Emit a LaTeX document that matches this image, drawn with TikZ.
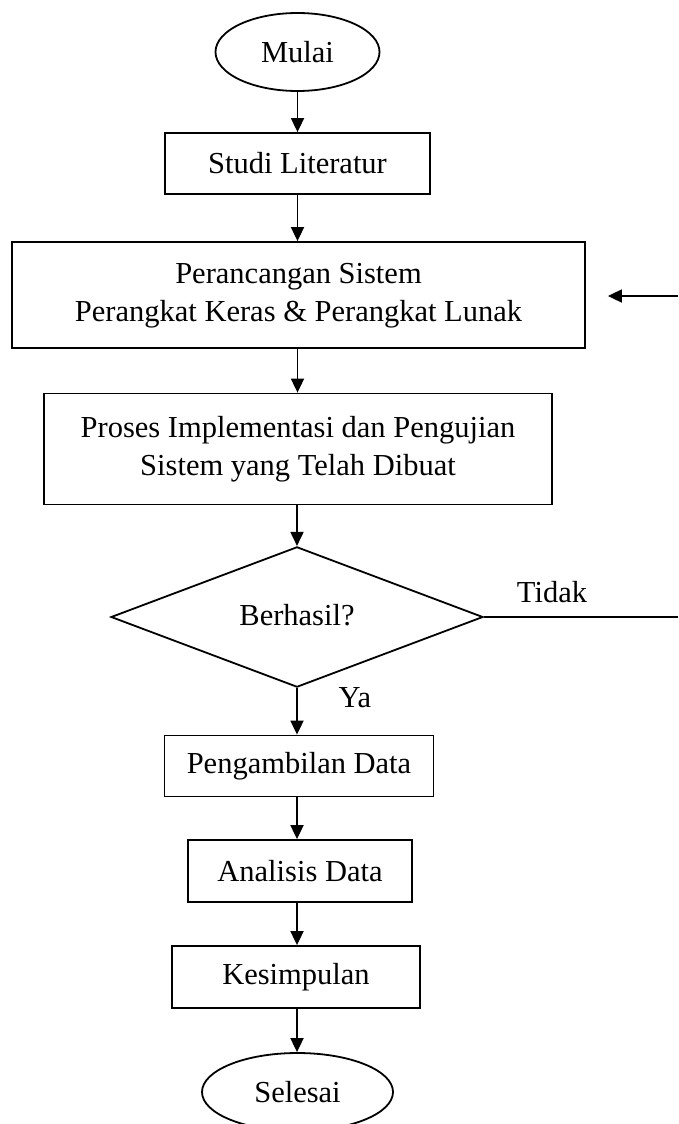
\documentclass[tikz,border=0pt]{standalone}
\usepackage{fontspec}
\setmainfont{Liberation Serif}
\usetikzlibrary{shapes.geometric,arrows.meta}
\begin{document}
\begin{tikzpicture}[x=1pt,y=-1pt,
  line width=1.8pt,
  every node/.style={font=\fontsize{30.5}{38}\selectfont, inner sep=0pt},
  box/.style={draw, rectangle, align=center},
  term/.style={draw, ellipse},
  decision/.style={draw, diamond},
  arr/.style={-{Triangle[length=14pt,width=13pt]}},
  plain/.style={draw=none}]
\useasboundingbox (0,0) rectangle (678,1124);
\clip (0,0) rectangle (678,1124);
\fill[white] (0,0) rectangle (678,1124);
\node[term, minimum width=164pt, minimum height=78pt] (mulai) at (297.5,52) {Mulai};
\node[box, minimum width=265pt, minimum height=61pt] (studi) at (297.5,163.5) {Studi Literatur};
\node[box, minimum width=573pt, minimum height=106pt] (peranc) at (298.5,295) {\raisebox{2pt}{\begin{tabular}{@{}c@{}}Perancangan Sistem\\Perangkat Keras \& Perangkat Lunak\end{tabular}}};
\node[box, minimum width=508pt, minimum height=111pt] (proses) at (298,449) {\raisebox{6pt}{\begin{tabular}{@{}c@{}}Proses Implementasi dan Pengujian\\Sistem yang Telah Dibuat\end{tabular}}};
\node[decision, minimum width=372pt, minimum height=134pt] (dec) at (297,617) {\raisebox{4pt}{Berhasil?}};
\node[box, minimum width=269pt, minimum height=61pt] (ambil) at (299,766) {Pengambilan Data};
\node[box, minimum width=224pt, minimum height=62pt] (analisis) at (300,871) {Analisis Data};
\node[box, minimum width=248pt, minimum height=62pt] (kesim) at (296,977) {Kesimpulan};
\node[term, minimum width=191pt, minimum height=78pt] (selesai) at (297.5,1092) {Selesai};
\node[plain] (tidak) at (552,592) {Tidak};
\node[plain] (ya) at (355,698) {Ya};
\coordinate (rin) at (678,296);
\coordinate (rout) at (678,617);
\draw[arr] (mulai) -- (studi);
\draw[arr] (studi) -- (peranc.north -| studi.south);
\draw[arr] (peranc.south -| studi.south) -- (proses.north -| studi.south);
\draw[arr] (proses.south -| dec.north) -- (dec.north);
\draw[arr] (dec.south) -- (ambil.north -| dec.south);
\draw[arr] (ambil.south -| dec.south) -- (analisis.north -| dec.south);
\draw[arr] (analisis.south -| dec.south) -- (kesim.north -| dec.south);
\draw[arr] (kesim.south -| dec.south) -- (selesai.north -| dec.south);
\draw (dec.east) -- (rout);
\draw[arr] (rin) -- ([xshift=22pt]peranc.east |- rin);
\end{tikzpicture}
\end{document}
